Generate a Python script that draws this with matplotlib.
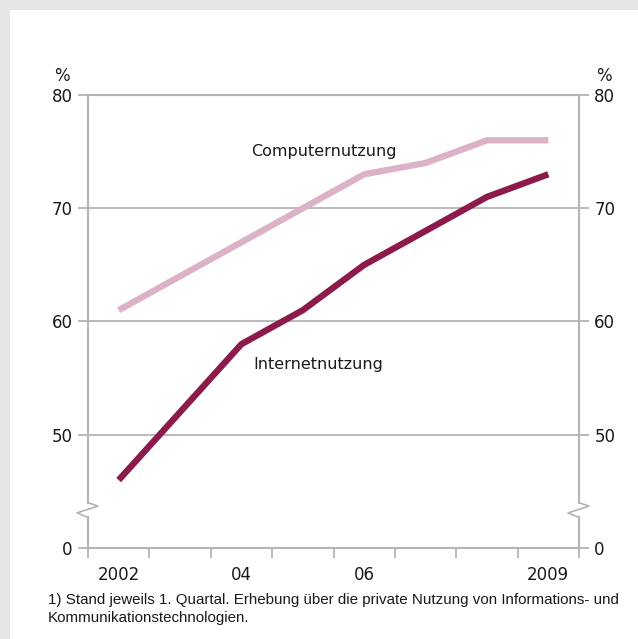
import matplotlib
matplotlib.use("Agg")
import matplotlib.pyplot as plt
from matplotlib.patches import Rectangle


# =========================
# Data
# =========================
years = [2002, 2003, 2004, 2005, 2006, 2007, 2008, 2009]
computer_use = [61, 64, 67, 70, 73, 74, 76, 76]
internet_use = [46, 52, 58, 61, 65, 68, 71, 73]

y_ticks = [40, 50, 60, 70, 80]
y_tick_labels = ["0", "50", "60", "70", "80"]
x_label_pos = [2002, 2004, 2006, 2009]
x_labels = ["2002", "04", "06", "2009"]

footnote = ("1) Stand jeweils 1. Quartal. Erhebung über die private Nutzung von Informations- und\n"
            "Kommunikationstechnologien.")

# =========================
# Style
# =========================
DARK = "#8c1a4b"
LIGHT = "#dbb2c7"
GRID = "#b4b4b4"
TEXT = "#1a1a1a"
BG = "#e6e6e6"

plt.rcParams["font.family"] = ["DejaVu Sans"]

W, H = 638, 639
fig = plt.figure(figsize=(W / 100, H / 100), dpi=100)
fig.patch.set_facecolor(BG)

# white panel
fig.patches.append(Rectangle((10 / W, 0), 1, (H - 10) / H, transform=fig.transFigure,
                             facecolor="white", edgecolor="none", zorder=-5))

left, right, top, bottom = 88, 579, 95, 548
ax = fig.add_axes([left / W, (H - bottom) / H, (right - left) / W, (bottom - top) / H])
ax.set_facecolor("none")
ax.set_zorder(2)

ax.plot(years, computer_use, color=LIGHT, linewidth=4.6, solid_capstyle="butt", zorder=3)
ax.plot(years, internet_use, color=DARK, linewidth=4.6, solid_capstyle="butt", zorder=3)

ax.set_xlim(2001.5, 2009.5)
ax.set_ylim(40, 80)

# gridlines
for v in [50, 60, 70]:
    ax.axhline(v, color=GRID, linewidth=1.3, zorder=1)

for s in ["left", "right"]:
    ax.spines[s].set_visible(False)
for s in ["top", "bottom"]:
    ax.spines[s].set_color(GRID)
    ax.spines[s].set_linewidth(1.5)

# side axis lines with a break
brk_lo, brk_hi = 42.7, 44.0
dx = 1.0 / (right - left)
for x0 in [0.0, 1.0]:
    trans = ax.get_yaxis_transform()
    ax.plot([x0, x0], [40, brk_lo], color=GRID, linewidth=1.5, transform=trans, clip_on=False)
    ax.plot([x0, x0 - 11 * dx, x0 + 10 * dx, x0], [brk_lo, 43.1, 43.7, brk_hi],
            color=GRID, linewidth=1.2, transform=trans, clip_on=False)
    ax.plot([x0, x0], [brk_hi, 80], color=GRID, linewidth=1.5, transform=trans, clip_on=False)

# ticks
ax.set_yticks(y_ticks)
ax.set_yticklabels(y_tick_labels)
ax.tick_params(axis="y", which="major", direction="out", length=7, width=1.3, color=GRID,
               labelsize=12, labelcolor=TEXT, pad=4, left=True, right=True,
               labelleft=True, labelright=True)

ax.set_xticks([y + 0.5 for y in range(2001, 2010)])
ax.set_xticklabels([])
ax.tick_params(axis="x", which="major", direction="out", length=7, width=1.3, color=GRID)
ax.set_xticks(x_label_pos, minor=True)
ax.set_xticklabels(x_labels, minor=True)
ax.tick_params(axis="x", which="minor", length=0, labelsize=12, labelcolor=TEXT, pad=13)

# unit labels
ax.text(-0.053, 1.031, "%", transform=ax.transAxes, ha="center", va="baseline",
        fontsize=12, color=TEXT)
ax.text(1.05, 1.031, "%", transform=ax.transAxes, ha="center", va="baseline",
        fontsize=12, color=TEXT)

# series labels
ax.text(2004.15, 75.0, "Computernutzung", ha="left", va="center", fontsize=11.5, color=TEXT)
ax.text(2004.2, 56.2, "Internetnutzung", ha="left", va="center", fontsize=11.5, color=TEXT)

# footnote
fig.text(48 / W, 1 - 593 / H, footnote, ha="left", va="top", fontsize=10.9,
         family=["Liberation Sans", "DejaVu Sans"], color=TEXT, linespacing=1.4)

fig.savefig("out.png", dpi=100, facecolor=fig.get_facecolor())
